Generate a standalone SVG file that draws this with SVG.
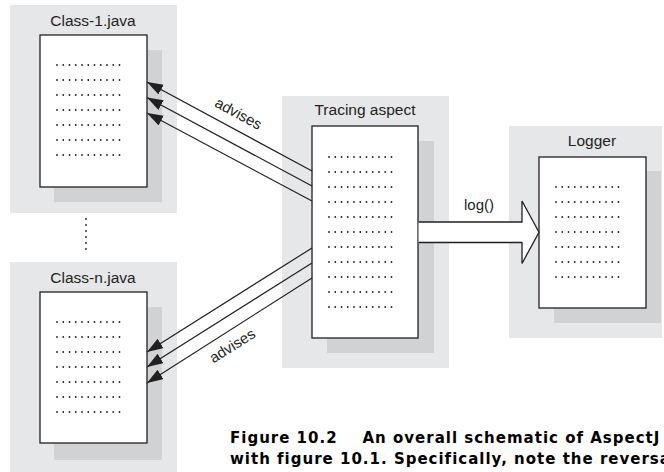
<svg xmlns="http://www.w3.org/2000/svg" width="664" height="472" viewBox="0 0 664 472">
  <defs>
    <style>
      .panel { fill: #e6e7e9; }
      .shadow { fill: #d1d2d4; }
      .page { fill: #ffffff; stroke: #231f20; stroke-width: 1.3; }
      .dots { stroke: #231f20; stroke-width: 1.8; stroke-linecap: round; stroke-dasharray: 0 6.25; fill: none; }
      .title { font-family: "Liberation Sans", Arial, sans-serif; font-size: 15.5px; fill: #231f20; text-anchor: middle; }
      .label { font-family: "Liberation Sans", Arial, sans-serif; font-size: 15px; fill: #231f20; text-anchor: middle; }
      .conn { stroke: #231f20; stroke-width: 1.2; fill: none; marker-end: url(#head); }
      .caption { font-family: "DejaVu Sans", "Liberation Sans", sans-serif; font-size: 15px; font-weight: bold; letter-spacing: 1px; fill: #000000; }
    </style>
    <marker id="head" markerUnits="userSpaceOnUse" markerWidth="18" markerHeight="12" refX="16" refY="5.5" orient="auto">
      <path d="M0,0 L16,5.5 L0,11 Z" fill="#231f20"/>
    </marker>
  </defs>

  <!-- Class-1.java -->
  <g id="class-1">
    <rect class="panel" x="10" y="5" width="167" height="208"/>
    <rect class="shadow" x="54" y="50" width="108" height="152"/>
    <rect class="page" x="40" y="35" width="107" height="152"/>
    <text class="title" x="93" y="26">Class-1.java</text>
    <g class="dots">
      <path d="M57,65 h68.75 M57,80 h68.75 M57,95 h68.75 M57,110 h68.75 M57,125 h68.75 M57,140 h68.75 M57,155 h68.75"/>
    </g>
  </g>

  <!-- vertical ellipsis between the class files -->
  <path class="dots" d="M86,219 v31" style="stroke-dasharray: 0 6"/>

  <!-- Class-n.java -->
  <g id="class-n">
    <rect class="panel" x="10" y="262" width="167" height="210"/>
    <rect class="shadow" x="54" y="307" width="108" height="153"/>
    <rect class="page" x="40" y="292" width="107" height="151"/>
    <text class="title" x="93" y="283">Class-n.java</text>
    <g class="dots">
      <path d="M57,322 h68.75 M57,337 h68.75 M57,352 h68.75 M57,367 h68.75 M57,382 h68.75 M57,397 h68.75 M57,412 h68.75"/>
    </g>
  </g>

  <!-- Tracing aspect -->
  <g id="tracing-aspect">
    <rect class="panel" x="282" y="96" width="167" height="272"/>
    <rect class="shadow" x="327" y="141" width="107" height="212"/>
    <rect class="page" x="312" y="126" width="106" height="212"/>
    <text class="title" x="365" y="115">Tracing aspect</text>
    <g class="dots">
      <path d="M329,157 h68.75 M329,172 h68.75 M329,187 h68.75 M329,202 h68.75 M329,217 h68.75 M329,232 h68.75 M329,247 h68.75 M329,262 h68.75 M329,277 h68.75 M329,292 h68.75 M329,307 h68.75"/>
    </g>
  </g>

  <!-- Logger -->
  <g id="logger">
    <rect class="panel" x="509" y="126" width="153" height="212"/>
    <rect class="shadow" x="554" y="171" width="107" height="152"/>
    <rect class="page" x="539" y="157" width="107" height="151"/>
    <text class="title" x="592" y="146">Logger</text>
    <g class="dots">
      <path d="M556,187 h68.75 M556,202 h68.75 M556,217 h68.75 M556,232 h68.75 M556,247 h68.75 M556,262 h68.75 M556,277 h68.75"/>
    </g>
  </g>

  <!-- connectors -->
  <g id="connectors">
    <path class="conn" d="M312,171 L147,82"/>
    <path class="conn" d="M312,186 L147,97.5"/>
    <path class="conn" d="M312,201 L147,113"/>
    <text class="label" transform="translate(236,118) rotate(28.4)">advises</text>

    <path class="conn" d="M312,248 L147,352"/>
    <path class="conn" d="M312,263 L147,367"/>
    <path class="conn" d="M312,278 L147,383"/>
    <text class="label" transform="translate(235,350) rotate(-32.2)">advises</text>

    <path d="M418.6,222 H522 V201 L539,232.3 L522,263.5 V242.5 H418.6" fill="#ffffff" stroke="#231f20" stroke-width="1.3" stroke-linejoin="miter"/>
    <text class="label" x="479" y="210">log()</text>
  </g>

  <!-- caption -->
  <text class="caption" x="230" y="443" xml:space="preserve">Figure 10.2    An overall schematic of AspectJ</text>
  <text class="caption" x="230" y="464">with figure 10.1. Specifically, note the reversa</text>
</svg>
